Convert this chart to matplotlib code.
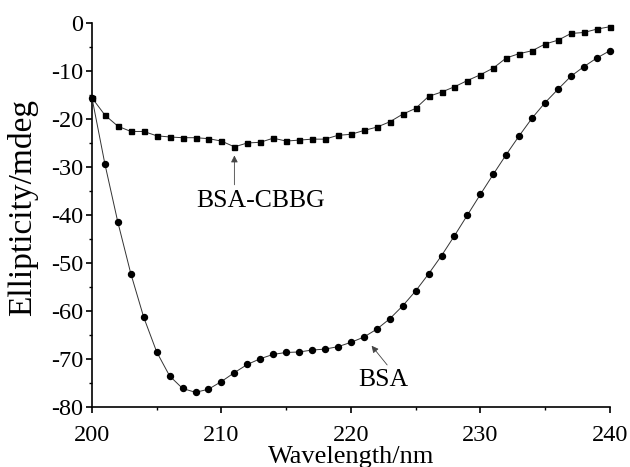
import matplotlib
matplotlib.use("Agg")
import matplotlib.pyplot as plt
from matplotlib.ticker import MultipleLocator

wavelength = list(range(200, 241))
bsa_cbbg = [-15.6, -19.2, -21.5, -22.6, -22.6, -23.5, -23.75, -23.9, -23.9, -24.1,
            -24.6, -25.8, -25.0, -24.85, -24.0, -24.6, -24.4, -24.2, -24.2, -23.4,
            -23.2, -22.4, -21.7, -20.6, -19.0, -17.8, -15.3, -14.4, -13.3, -12.0,
            -10.8, -9.4, -7.3, -6.4, -5.8, -4.4, -3.6, -2.2, -2.0, -1.3, -0.8]
bsa = [-15.6, -29.4, -41.5, -52.2, -61.3, -68.5, -73.5, -76.1, -76.9, -76.25,
       -74.65, -72.8, -71.1, -69.9, -69.0, -68.6, -68.5, -68.1, -67.9, -67.4,
       -66.5, -65.4, -63.75, -61.6, -58.9, -55.8, -52.25, -48.45, -44.3, -40.0,
       -35.7, -31.5, -27.4, -23.5, -19.8, -16.6, -13.8, -11.1, -9.1, -7.3, -5.8]

plt.rcParams['font.family'] = 'serif'
plt.rcParams['font.serif'] = ['Liberation Serif', 'DejaVu Serif']
plt.rcParams['axes.unicode_minus'] = False

fig = plt.figure(figsize=(6.3, 4.67), dpi=100)
ax = fig.add_axes([0.146, 0.128, 0.822, 0.823])

ax.plot(wavelength, bsa_cbbg, color='#333333', lw=0.7, marker='s', ms=3.6,
        mfc='black', mec='black', clip_on=False, zorder=3)
ax.plot(wavelength, bsa, color='#333333', lw=0.7, marker='o', ms=4.3,
        mfc='black', mec='black', clip_on=False, zorder=3)

ax.set_xlim(200, 240)
ax.set_ylim(-80, 0)
ax.xaxis.set_major_locator(MultipleLocator(10))
ax.xaxis.set_minor_locator(MultipleLocator(5))
ax.yaxis.set_major_locator(MultipleLocator(10))
ax.yaxis.set_minor_locator(MultipleLocator(5))
for s in ['top', 'right']:
    ax.spines[s].set_visible(False)
for s in ['left', 'bottom']:
    ax.spines[s].set_linewidth(1.2)
ax.tick_params(axis='x', which='major', direction='out', length=4.5, width=1.2,
               labelsize=17.5, pad=8)
ax.tick_params(axis='y', which='major', direction='out', length=4.5, width=1.2,
               labelsize=17.5, pad=2)
ax.tick_params(which='minor', direction='out', length=2.5, width=1.0)

ax.set_xlabel('Wavelength/nm', fontsize=19, va='baseline')
ax.xaxis.set_label_coords(0.5, -0.146)
ax.set_ylabel('Ellipticity/mdeg', fontsize=24, va='center')
ax.yaxis.set_label_coords(-0.135, 0.52)

arrow = dict(arrowstyle='-|>', color='#444444', lw=0.6, mutation_scale=10,
             shrinkA=0, shrinkB=0)
ax.annotate('', xy=(211.0, -27.6), xytext=(211.0, -33.7), arrowprops=arrow)
ax.text(213.0, -37.0, 'BSA-CBBG', ha='center', va='center', fontsize=18.5)
ax.annotate('', xy=(221.6, -67.2), xytext=(222.8, -71.2), arrowprops=arrow)
ax.text(222.5, -74.3, 'BSA', ha='center', va='center', fontsize=18.5)

fig.savefig('out.png', dpi=100)
